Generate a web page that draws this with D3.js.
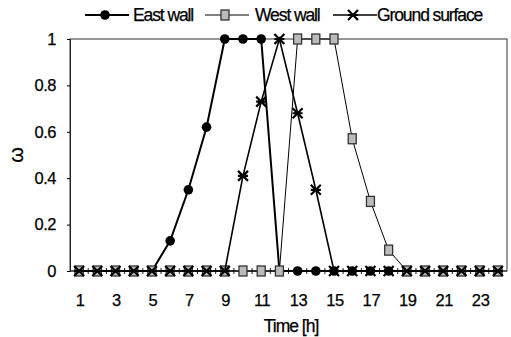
<!DOCTYPE html>
<html>
<head>
<meta charset="utf-8">
<script src="https://cdn.jsdelivr.net/npm/d3@7"></script>
<style>
  body { margin: 0; background: #fff; }
  svg text { font-family: "Liberation Sans", Arial, sans-serif; fill: #000; stroke: #000; stroke-width: 0.25px; }
</style>
</head>
<body>
<script>
// hours of the day
let hours = d3.range(1, 25)
let xTicks = [1, 3, 5, 7, 9, 11, 13, 15, 17, 19, 21, 23]
let yTicks = [0, 0.2, 0.4, 0.6, 0.8, 1]

// omega per hour
let eastWall = [0, 0, 0, 0, 0, 0.13, 0.35, 0.62, 1, 1, 1, 0, 0, 0, 0, 0, 0, 0, 0, 0, 0, 0, 0, 0]
let westWall = [0, 0, 0, 0, 0, 0, 0, 0, 0, 0, 0, 0, 1, 1, 1, 0.57, 0.3, 0.09, 0, 0, 0, 0, 0, 0]
let ground   = [0, 0, 0, 0, 0, 0, 0, 0, 0, 0.41, 0.73, 1, 0.68, 0.35, 0, 0, 0, 0, 0, 0, 0, 0, 0, 0]

let width = 511, height = 337
let margin = {top: 39, right: 4, bottom: 66, left: 70}

let svg = d3.select('body').append('svg')
  .attr('width', width).attr('height', height)

let x = d3.scaleBand()
  .domain(hours)
  .range([margin.left, width - margin.right])

let y = d3.scaleLinear()
  .domain([0, 1])
  .range([height - margin.bottom, margin.top])

let cx = h => x(h) + x.bandwidth() / 2

// frame
svg.append('rect')
  .attr('x', margin.left).attr('y', margin.top)
  .attr('width', width - margin.right - margin.left)
  .attr('height', height - margin.bottom - margin.top)
  .attr('fill', 'none').attr('stroke', '#333').attr('stroke-width', 1)

// y axis
let yAxis = svg.append('g')
  .attr('transform', `translate(${margin.left},0)`)
  .call(d3.axisLeft(y).tickValues(yTicks).tickSize(3).tickPadding(11)
    .tickFormat(d => d === 0 || d === 1 ? d : d3.format('.1f')(d)))
yAxis.select('.domain').attr('stroke', '#222')
yAxis.selectAll('text').attr('font-size', 16.5).attr('letter-spacing', -0.5)

// x axis, ticks between the hours
let xg = svg.append('g')
  .attr('transform', `translate(0,${height - margin.bottom})`)
xg.append('line')
  .attr('x1', margin.left).attr('x2', width - margin.right)
  .attr('stroke', '#222')
xg.selectAll('.tk').data(hours.slice(1)).enter().append('line')
  .attr('x1', d => x(d)).attr('x2', d => x(d))
  .attr('y1', -3).attr('y2', 3)
  .attr('stroke', '#222')
xg.selectAll('text').data(xTicks).enter().append('text')
  .attr('x', d => cx(d) + 1).attr('y', 35)
  .attr('text-anchor', 'middle')
  .attr('font-size', 16.5)
  .attr('letter-spacing', -0.3)
  .text(d => d)

svg.append('text')
  .attr('x', 291).attr('y', 332)
  .attr('text-anchor', 'middle')
  .attr('font-size', 17.5)
  .attr('letter-spacing', -1)
  .text('Time [h]')

svg.append('text')
  .attr('transform', `translate(23,155) rotate(-90)`)
  .attr('text-anchor', 'middle')
  .attr('font-size', 20)
  .text('ω')

// markers
let circle = (g, px, py) => g.append('circle')
  .attr('cx', px).attr('cy', py).attr('r', 4.8).attr('fill', '#000')

let square = (g, px, py) => g.append('rect')
  .attr('x', px - 4).attr('y', py - 5).attr('width', 8).attr('height', 10)
  .attr('fill', '#bbb').attr('stroke', '#333').attr('stroke-width', 1.3)

let star = (g, px, py) => {
  let s = 5
  g.append('path')
    .attr('d', `M${px - s},${py - s}L${px + s},${py + s}M${px - s},${py + s}L${px + s},${py - s}M${px - s},${py}L${px + s},${py}`)
    .attr('stroke', '#000').attr('stroke-width', 2.2).attr('fill', 'none')
}

let series = [
  {name: 'East wall', values: eastWall, marker: circle, width: 2},
  {name: 'West wall', values: westWall, marker: square, width: 1},
  {name: 'Ground surface', values: ground, marker: star, width: 1.6}
]

let line = d3.line().x((d, i) => cx(hours[i])).y(d => y(d))

series.forEach(s => {
  let g = svg.append('g')
  g.append('path')
    .attr('d', line(s.values))
    .attr('fill', 'none').attr('stroke', '#000').attr('stroke-width', s.width)
  s.values.forEach((v, i) => s.marker(g, cx(hours[i]), y(v)))
})

// legend
let legendX = [85, 205, 333]
let legendTextX = [133, 255, 377]
series.forEach((s, i) => {
  let g = svg.append('g')
  g.append('line')
    .attr('x1', legendX[i]).attr('x2', legendX[i] + 44)
    .attr('y1', 15).attr('y2', 15)
    .attr('stroke', '#000').attr('stroke-width', s.width)
  s.marker(g, legendX[i] + 20, 15)
  g.append('text')
    .attr('x', legendTextX[i]).attr('y', 21)
    .attr('font-size', 17.5)
    .attr('letter-spacing', -1.1)
    .text(s.name)
})
</script>
</body>
</html>
